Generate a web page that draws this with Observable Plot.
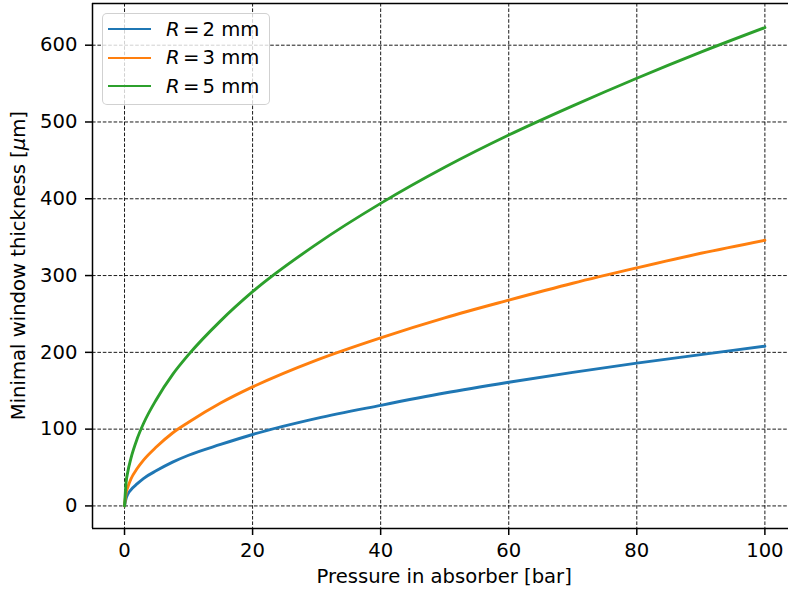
<!DOCTYPE html>
<html>
<head>
<meta charset="utf-8">
<script src="https://cdn.jsdelivr.net/npm/d3@7"></script>
<script src="https://cdn.jsdelivr.net/npm/@observablehq/plot@0.6"></script>
<style>
  html, body { margin: 0; padding: 0; background: #fff; }
  #wrap { position: relative; width: 788px; height: 589px; overflow: hidden; font-family: "DejaVu Sans", sans-serif; }
  #legend { position: absolute; left: 102px; top: 13px; width: 168px; height: 92px; box-sizing: border-box;
    border: 1px solid rgba(204,204,204,0.9); border-radius: 5px; background: rgba(255,255,255,0.8); }
  .item { position: absolute; left: 0; height: 24px; display: flex; align-items: center; font-size: 19.6px; color: #000; white-space: nowrap; }
  .swatch { width: 43px; height: 0; border-top: 2.9px solid; margin-left: 5px; margin-right: 15px; }
</style>
</head>
<body>
<div id="wrap"><div id="legend"></div></div>
<script>
// Pressure in absorber [bar]
const pressure = [0, 0.25, 0.5, 1, 2, 3, 5, 7.5, 10, 15, 20, 30, 40, 50, 60, 70, 80, 90, 100];
// Minimal window thickness [µm]
const thickR2 = [0, 10, 15, 21, 29, 36, 46, 57, 66, 80, 93, 114, 131, 147, 161, 174, 186, 197, 208];
const thickR3 = [0, 17, 24, 35, 49, 60, 77, 95, 109, 134, 155, 190, 219, 245, 268, 290, 310, 329, 346];
const thickR5 = [0, 31, 44, 62, 88, 108, 139, 171, 197, 241, 279, 341, 394, 441, 483, 521, 557, 591, 623];
const seriesNames = ["R = 2 mm", "R = 3 mm", "R = 5 mm"];
const seriesRadius = ["2", "3", "5"];
const seriesColors = ["#1f77b4", "#ff7f0e", "#2ca02c"];
const xTicks = [0, 20, 40, 60, 80, 100];
const yTicks = [0, 100, 200, 300, 400, 500, 600];

const allSeries = [thickR2, thickR3, thickR5];
const rows = [];
allSeries.forEach((vals, si) => {
  vals.forEach((v, i) => rows.push({series: seriesNames[si], p: pressure[i], t: v}));
});

const W = 788, H = 589;
const FS = 19.6;
const xDomain = [-5, 105];
const yDomain = [-29.4, 654.3];

const chart = Plot.plot({
  width: W,
  height: H,
  marginLeft: 92,
  marginRight: 0,
  marginTop: 3,
  marginBottom: 61,
  style: {fontFamily: "DejaVu Sans, sans-serif", fontSize: FS + "px", background: "transparent", color: "#000", overflow: "hidden"},
  x: {domain: xDomain, range: [92, 796.4]},
  y: {domain: yDomain},
  color: {domain: seriesNames, range: seriesColors},
  marks: [
    Plot.gridX(xTicks, {stroke: "#000", strokeOpacity: 1, strokeWidth: 0.9, strokeDasharray: "3.6,1.8"}),
    Plot.gridY(yTicks, {stroke: "#000", strokeOpacity: 1, strokeWidth: 0.9, strokeDasharray: "3.6,1.8"}),
    Plot.line(rows, {x: "p", y: "t", z: "series", stroke: "series", strokeWidth: 2.9, curve: "monotone-x"}),
    Plot.ruleX([xDomain[0]], {stroke: "#000", strokeWidth: 1.5}),
    Plot.ruleY([yDomain[0], yDomain[1]], {stroke: "#000", strokeWidth: 1.5}),
    Plot.axisX(xTicks, {tickSize: 7, tickPadding: 8, fontSize: FS, tickFormat: d => String(d), label: null, strokeWidth: 1.5}),
    Plot.axisY(yTicks, {tickSize: 7, tickPadding: 8, fontSize: FS, tickFormat: d => String(d), label: null, strokeWidth: 1.5})
  ]
});

const wrap = document.getElementById("wrap");
wrap.insertBefore(chart, wrap.firstChild);

const svg = d3.select(chart);
svg.append("text")
  .attr("x", (92 + 796.4) / 2).attr("y", 582.5)
  .attr("text-anchor", "middle")
  .style("font-family", "DejaVu Sans, sans-serif").style("font-size", FS + "px").attr("fill", "#000")
  .text("Pressure in absorber [bar]");
const yl = svg.append("text")
  .attr("transform", `translate(25, ${(3 + 528.3) / 2}) rotate(-90)`)
  .attr("text-anchor", "middle")
  .style("font-family", "DejaVu Sans, sans-serif").style("font-size", FS + "px").attr("fill", "#000");
yl.append("tspan").text("Minimal window thickness [");
yl.append("tspan").style("font-style", "italic").text("μ");
yl.append("tspan").text("m]");

const legend = document.getElementById("legend");
seriesNames.forEach((name, i) => {
  const it = document.createElement("div");
  it.className = "item";
  it.style.top = (3 + i * 28.5) + "px";
  it.innerHTML = `<span class="swatch" style="border-color:${seriesColors[i]}"></span><span><i>R</i>&#8198;=&#8198;${seriesRadius[i]} mm</span>`;
  legend.appendChild(it);
});
</script>
</body>
</html>
